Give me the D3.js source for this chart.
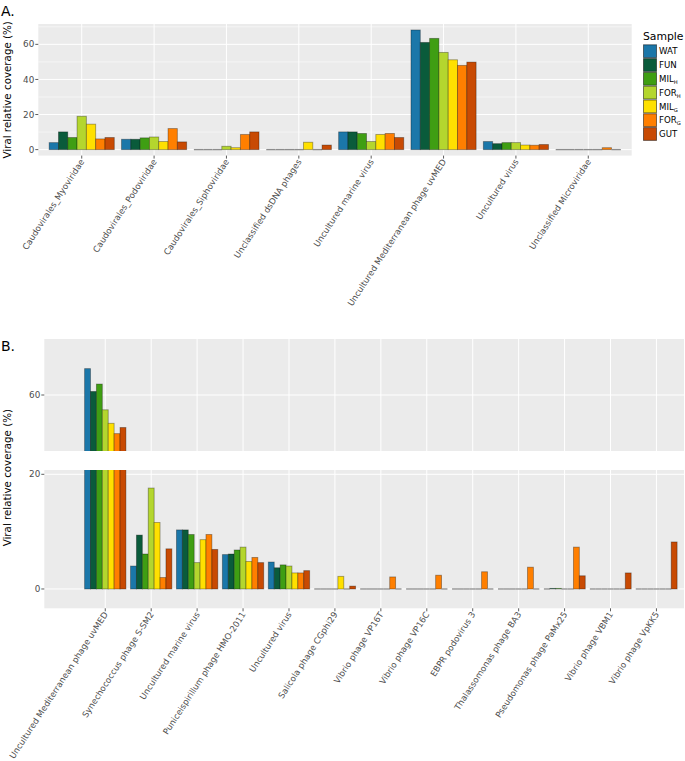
<!DOCTYPE html>
<html><head><meta charset="utf-8">
<script src="https://cdn.jsdelivr.net/npm/d3@7"></script>
<style>body{margin:0;background:#fff}svg{display:block;font-family:"DejaVu Sans",sans-serif}</style>
</head><body><svg id="c" width="685" height="761"></svg>
<script>
// ---------- DATA ----------
const samples = ["WAT","FUN","MIL_H","FOR_H","MIL_G","FOR_G","GUT"];
const sampleColors = ["#1b77a9","#0a5b3b","#3f9e13","#b4d62e","#ffe000","#ff7f00","#c84a03"];
const legendBase = ["WAT","FUN","MIL","FOR","MIL","FOR","GUT"];
const legendSub  = ["","","H","H","G","G",""];

const catsA = ["Caudovirales_Myoviridae","Caudovirales_Podoviridae","Caudovirales_Siphoviridae",
  "Unclassified dsDNA phages","Uncultured marine virus","Uncultured Mediterranean phage uvMED",
  "Uncultured virus","Unclassified Microviridae"];
const aWAT  = [4.0, 5.9, 0,   0,   10.1, 68.2, 4.6, 0];
const aFUN  = [10.1,5.9, 0,   0,   10.1, 61.1, 3.4, 0];
const aMILH = [6.9, 6.7, 0,   0,   9.2,  63.4, 4.0, 0];
const aFORH = [19.0,7.2, 1.9, 0,   4.6,  55.4, 4.0, 0];
const aMILG = [14.5,4.6, 1.1, 4.2, 8.6,  51.2, 2.6, 0];
const aFORG = [6.1, 12.0,8.6, 0,   9.2,  48.0, 2.5, 1.1];
const aGUT  = [6.9, 4.4, 10.1,2.6, 6.9,  49.9, 2.9, 0];
const ticksA = [0,20,40,60];

const catsB = ["Uncultured Mediterranean phage uvMED","Synechococcus phage S-SM2","Uncultured marine virus",
  "Puniceispirillum phage HMO-2011","Uncultured virus","Salicola phage CGphi29","Vibrio phage VP16T",
  "Vibrio phage VP16C","EBPR podovirus 3","Thalassomonas phage BA3","Pseudomonas phage PaMx25",
  "Vibrio phage VBM1","Vibrio phage VpKK5"];
const bWAT  = [68.2, 4.0, 10.3, 6.0, 4.7, 0,   0,   0,   0,   0,   0,   0,   0];
const bFUN  = [61.1, 9.4, 10.3, 6.1, 3.7, 0,   0,   0,   0,   0,   0.1, 0,   0];
const bMILH = [63.4, 6.1, 9.5,  6.8, 4.2, 0,   0,   0,   0,   0,   0.1, 0,   0];
const bFORH = [55.4, 17.6,4.6,  7.3, 4.0, 0,   0,   0,   0,   0,   0,   0,   0];
const bMILG = [51.2, 11.6,8.6,  4.8, 2.8, 2.2, 0,   0,   0,   0,   0,   0,   0];
const bFORG = [48.0, 2.0, 9.5,  5.5, 2.8, 0,   2.1, 2.4, 3.0, 3.8, 7.3, 0,   0];
const bGUT  = [49.9, 7.0, 6.9,  4.6, 3.2, 0.5, 0,   0,   0,   0,   2.3, 2.8, 8.2];
const ticksBLow = [0,20];
const ticksBUp = [60];

const seriesA = [aWAT,aFUN,aMILH,aFORH,aMILG,aFORG,aGUT];
const seriesB = [bWAT,bFUN,bMILH,bFORH,bMILG,bFORG,bGUT];

// ---------- DRAW ----------
const svg = d3.select("#c");
const PANEL = "#ebebeb", GRID = "#ffffff", TXT = "#4d4d4d";

function drawBars(g, cats, series, x, xs, y, clipId, showZero){
  cats.forEach((c,i)=>{
    series.forEach((arr,j)=>{
      const v = arr[i];
      const yt = y(v), y0 = y(0);
      const bx = x(c)+xs(samples[j]);
      if (v === 0) {
        if (showZero) g.append("line").attr("x1",bx).attr("x2",bx+xs.bandwidth())
          .attr("y1",y0).attr("y2",y0).attr("stroke","#8c8c8c").attr("stroke-width",1.3);
        return;
      }
      g.append("rect")
        .attr("x", bx)
        .attr("width", xs.bandwidth())
        .attr("y", Math.min(yt,y0))
        .attr("height", Math.abs(y0-yt))
        .attr("fill", sampleColors[j])
        .attr("stroke", "#000").attr("stroke-opacity", 0.35).attr("stroke-width", 0.9)
        .attr("clip-path", clipId ? `url(#${clipId})` : null);
    });
  });
}

function xLabels(cats, x, yTop){
  const g = svg.append("g");
  cats.forEach(c=>{
    const cx = x(c)+x.bandwidth()/2;
    g.append("line").attr("x1",cx).attr("x2",cx).attr("y1",yTop).attr("y2",yTop+3)
      .attr("stroke","#333").attr("stroke-width",0.8);
    g.append("text").attr("transform",`translate(${cx+3},${yTop+6}) rotate(-57)`)
      .attr("text-anchor","end").attr("font-size",8.5).attr("fill",TXT).text(c);
  });
}

function yAxis(y, ticks, xLeft){
  const g = svg.append("g");
  ticks.forEach(t=>{
    g.append("line").attr("x1",xLeft-3).attr("x2",xLeft).attr("y1",y(t)).attr("y2",y(t))
      .attr("stroke","#333").attr("stroke-width",0.8);
    g.append("text").attr("x",xLeft-4).attr("y",y(t)).attr("dy","0.35em")
      .attr("text-anchor","end").attr("font-size",8.8).attr("fill",TXT).text(t);
  });
}

// ===== Panel A =====
const A = {x0:38.3, x1:631.7, y0:24, y1:155.6};
const xA = d3.scaleBand().domain(catsA).range([A.x0,A.x1]).paddingInner(0.1).paddingOuter(0.15);
const xsA = d3.scaleBand().domain(samples).range([0,xA.bandwidth()]);
const yA = d3.scaleLinear().domain([-3.41,71.6]).range([A.y1,A.y0]);
svg.append("rect").attr("x",A.x0).attr("y",A.y0).attr("width",A.x1-A.x0).attr("height",A.y1-A.y0).attr("fill",PANEL);
const gA = svg.append("g");
[10,30,50,70].forEach(t=>gA.append("line").attr("x1",A.x0).attr("x2",A.x1).attr("y1",yA(t)).attr("y2",yA(t)).attr("stroke",GRID).attr("stroke-width",0.5));
ticksA.forEach(t=>gA.append("line").attr("x1",A.x0).attr("x2",A.x1).attr("y1",yA(t)).attr("y2",yA(t)).attr("stroke",GRID).attr("stroke-width",1));
catsA.forEach(c=>{const cx=xA(c)+xA.bandwidth()/2; gA.append("line").attr("x1",cx).attr("x2",cx).attr("y1",A.y0).attr("y2",A.y1).attr("stroke",GRID).attr("stroke-width",1);});
drawBars(gA, catsA, seriesA, xA, xsA, yA, null, true);
yAxis(yA, ticksA, A.x0);
xLabels(catsA, xA, A.y1);
svg.append("text").attr("transform",`translate(10.5,${(A.y0+A.y1)/2}) rotate(-90)`).attr("text-anchor","middle")
  .attr("font-size",10.3).attr("fill","#000").text("Viral relative coverage (%)");
svg.append("text").attr("x",1).attr("y",15.5).attr("font-size",14).attr("fill","#000").text("A.");

// Legend
const lg = svg.append("g");
lg.append("text").attr("x",643).attr("y",39.5).attr("font-size",10.8).attr("fill","#000").text("Sample");
samples.forEach((s,j)=>{
  const ky = 44.3 + j*13.8;
  lg.append("rect").attr("x",643.5).attr("y",ky+0.5).attr("width",13).attr("height",12.8)
    .attr("fill",sampleColors[j]).attr("stroke","#000").attr("stroke-opacity",0.5).attr("stroke-width",1);
  const t = lg.append("text").attr("x",659).attr("y",ky+7).attr("dy","0.35em").attr("font-size",8.6).attr("fill","#000");
  t.append("tspan").text(legendBase[j]);
  if(legendSub[j]) t.append("tspan").attr("font-size",5.2).attr("dy",2).text(legendSub[j]);
});

// ===== Panel B =====
const B = {x0:44.3, x1:684, up0:339, up1:451, lo0:470, lo1:608.3};
const xB = d3.scaleBand().domain(catsB).range([77.7,B.x1]).paddingInner(0.1).paddingOuter(0.15);
const xsB = d3.scaleBand().domain(samples).range([0,xB.bandwidth()]);
const yBlo = d3.scaleLinear().domain([-3.37,20.75]).range([B.lo1,B.lo0]);
const yBup = d3.scaleLinear().domain([42.6,77.4]).range([B.up1,B.up0]);

const defs = svg.append("defs");
defs.append("clipPath").attr("id","clipUp").append("rect").attr("x",B.x0).attr("y",B.up0).attr("width",B.x1-B.x0).attr("height",B.up1-B.up0);
defs.append("clipPath").attr("id","clipLo").append("rect").attr("x",B.x0).attr("y",B.lo0).attr("width",B.x1-B.x0).attr("height",B.lo1-B.lo0);

[[B.up0,B.up1,yBup,ticksBUp,"clipUp",false],[B.lo0,B.lo1,yBlo,ticksBLow,"clipLo",true]].forEach(([t0,t1,y,ticks,cid,zero])=>{
  svg.append("rect").attr("x",B.x0).attr("y",t0).attr("width",B.x1-B.x0).attr("height",t1-t0).attr("fill",PANEL);
  const g = svg.append("g");
  ticks.forEach(t=>g.append("line").attr("x1",B.x0).attr("x2",B.x1).attr("y1",y(t)).attr("y2",y(t)).attr("stroke",GRID).attr("stroke-width",1));
  catsB.forEach(c=>{const cx=xB(c)+xB.bandwidth()/2; g.append("line").attr("x1",cx).attr("x2",cx).attr("y1",t0).attr("y2",t1).attr("stroke",GRID).attr("stroke-width",1);});
  drawBars(g, catsB, seriesB, xB, xsB, y, cid, zero);
  yAxis(y, ticks, B.x0);
});
xLabels(catsB, xB, B.lo1);
svg.append("text").attr("transform",`translate(10.5,${(B.up0+B.lo1)/2 + 4}) rotate(-90)`).attr("text-anchor","middle")
  .attr("font-size",10.3).attr("fill","#000").text("Viral relative coverage (%)");
svg.append("text").attr("x",1).attr("y",351).attr("font-size",14).attr("fill","#000").text("B.");
</script></body></html>
